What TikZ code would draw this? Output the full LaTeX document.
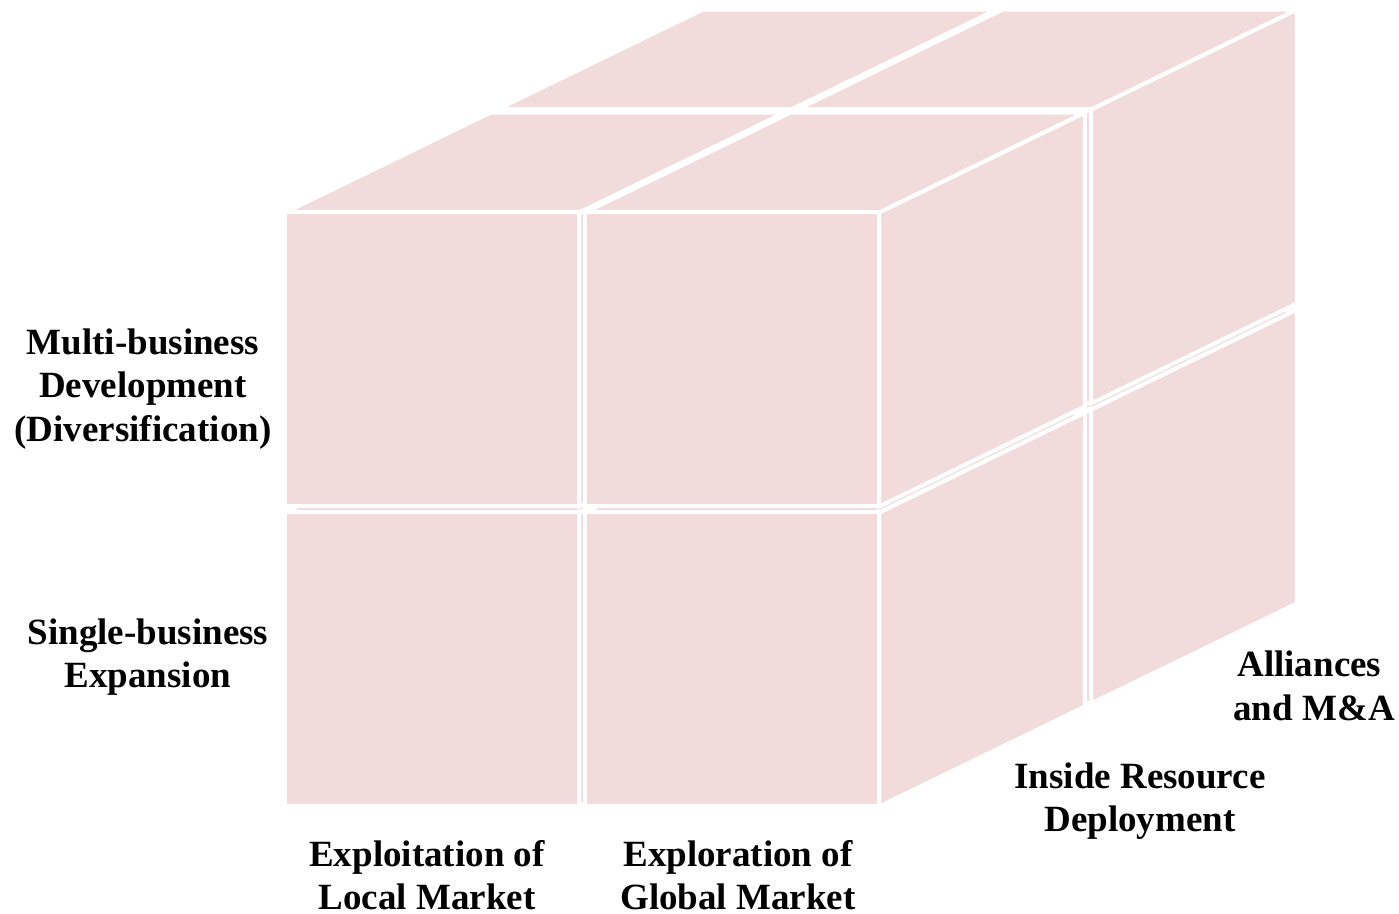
\documentclass[tikz,border=0pt]{standalone}
\usepackage{fontspec}
\setmainfont{Liberation Serif}
\definecolor{cubepink}{HTML}{F2DCDB}
\tikzset{
  face/.style={fill=cubepink, draw=white, line width=2pt, line join=miter},
  lbl/.style={font=\bfseries\fontsize{18.5}{21.75}\selectfont, align=center, inner sep=0pt}
}
\begin{document}
\begin{tikzpicture}[x=0.5pt,y=-0.5pt]
\useasboundingbox (0,0) rectangle (1399,914);
% cube edge \s, depth vector (\dx,\dy), front-lower-left corner (\ox,\oy)
\def\s{300}\def\dx{212}\def\dy{-103}\def\ox{279}\def\oy{811}\def\g{3}\def\e{0.015}
% back layer first, then left to right, bottom to top
\foreach \k in {1,0}{
  \foreach \i in {0,1}{
    \foreach \j in {0,1}{
      \pgfmathsetmacro\xa{\ox+\i*\s+\g}
      \pgfmathsetmacro\xb{\ox+(\i+1)*\s-\g}
      \pgfmathsetmacro\ya{\oy-\j*\s-\g}
      \pgfmathsetmacro\yb{\oy-(\j+1)*\s+\g}
      \pgfmathsetmacro\ta{\k+\e}
      \pgfmathsetmacro\tb{\k+1-\e}
      % right face
      \draw[face] (\xb+\ta*\dx,\ya+\ta*\dy) -- (\xb+\ta*\dx,\yb+\ta*\dy)
        -- (\xb+\tb*\dx,\yb+\tb*\dy) -- (\xb+\tb*\dx,\ya+\tb*\dy) -- cycle;
      % top face
      \draw[face] (\xa+\ta*\dx,\yb+\ta*\dy) -- (\xb+\ta*\dx,\yb+\ta*\dy)
        -- (\xb+\tb*\dx,\yb+\tb*\dy) -- (\xa+\tb*\dx,\yb+\tb*\dy) -- cycle;
      % front face
      \draw[face] (\xa+\ta*\dx,\ya+\ta*\dy) rectangle (\xb+\ta*\dx,\yb+\ta*\dy);
    }
  }
}
% axis labels
\node[lbl] (multi) at (143,389) {Multi-business\\Development\\(Diversification)};
\node[lbl] (single) at (148,657) {Single-business\\Expansion};
\node[lbl] (local) at (427,875) {Exploitation of\\Local Market};
\node[lbl] (global) at (738,875) {Exploration of\\Global Market};
\node[lbl] (inside) at (1140,801) {Inside Resource\\Deployment};
\node[lbl, align=left, anchor=west] (alliance) at (1233,686) {\hspace*{2pt}Alliances\\and M\&A};
\end{tikzpicture}
\end{document}
